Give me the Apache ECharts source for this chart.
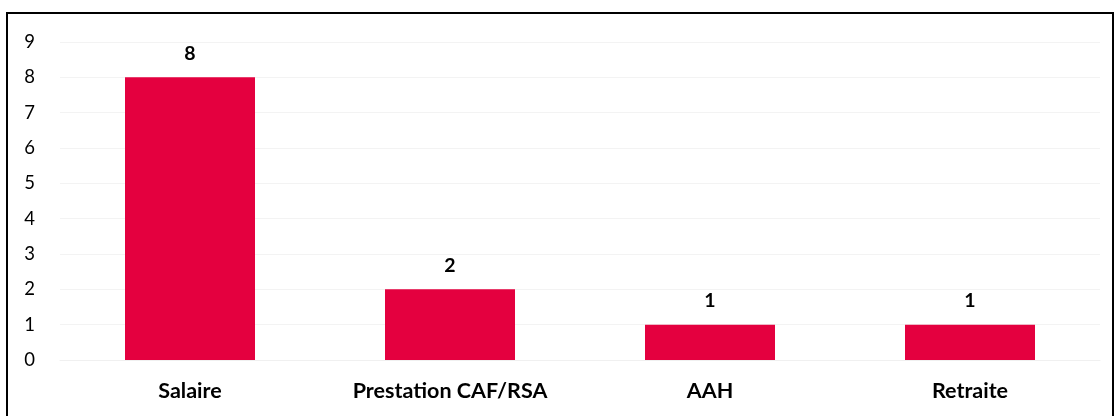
<!DOCTYPE html>
<html>
<head>
<meta charset="utf-8">
<script src="https://cdn.jsdelivr.net/npm/echarts@6/dist/echarts.min.js"></script>
<style>
  html, body { margin: 0; padding: 0; background: #fff; }
  #chart { width: 1118px; height: 416px; }
</style>
</head>
<body>
<div id="chart"></div>
<script>
// Sources de revenus : nombre de personnes par catégorie
const categories = ['Salaire', 'Prestation CAF/RSA', 'AAH', 'Retraite'];
const counts = [8, 2, 1, 1];
const yTicks = [0, 1, 2, 3, 4, 5, 6, 7, 8, 9];

const FONT = 'Lato, "Open Sans", sans-serif';
const chart = echarts.init(document.getElementById('chart'));

chart.setOption({
  animation: false,
  backgroundColor: '#fff',
  graphic: [{
    type: 'rect',
    shape: { x: 7, y: 13, width: 1106, height: 420 },
    style: { fill: 'none', stroke: '#000', lineWidth: 2 },
    silent: true
  }],
  grid: { left: 60, right: 18, top: 42, bottom: 56 },
  xAxis: {
    type: 'category',
    data: categories,
    axisLine: { show: true, lineStyle: { color: '#f0f0f0', width: 1 } },
    axisTick: { show: false },
    axisLabel: {
      color: '#000', fontFamily: FONT, fontWeight: 'bold', fontSize: 21.5, margin: 20
    }
  },
  yAxis: {
    type: 'value',
    min: yTicks[0],
    max: yTicks[yTicks.length - 1],
    interval: 1,
    axisLine: { show: false },
    axisTick: { show: false },
    splitLine: { lineStyle: { color: '#f3f3f3', width: 1 } },
    axisLabel: {
      color: '#000', fontFamily: FONT, fontSize: 18.5, margin: 25
    }
  },
  series: [{
    type: 'bar',
    data: counts,
    barWidth: '50%',
    itemStyle: { color: '#E4003F' },
    label: {
      show: true, position: 'top', distance: 14,
      color: '#000', fontFamily: FONT, fontWeight: 'bold', fontSize: 19.5
    }
  }]
});
</script>
</body>
</html>
